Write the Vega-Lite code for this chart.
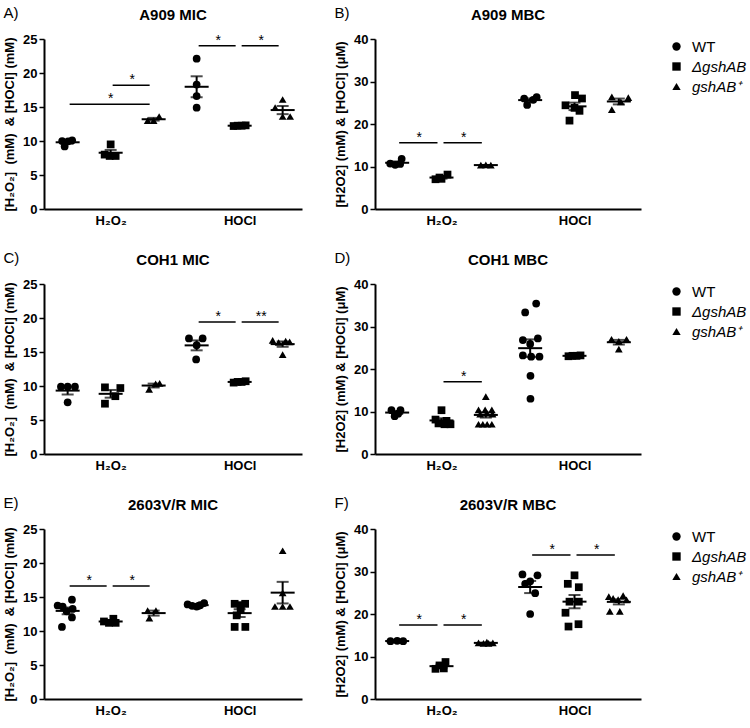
{
  "$schema": "https://vega.github.io/schema/vega-lite/v6.json",
  "padding": {"top": 6, "left": 3, "right": 0, "bottom": 0},
  "datasets": {
    "points": [
      {"panel": "A", "group": "H2O2 WT", "strain": "WT", "value": 10.0, "jitter": -0.55},
      {"panel": "A", "group": "H2O2 WT", "strain": "WT", "value": 10.1, "jitter": 0.45},
      {"panel": "A", "group": "H2O2 WT", "strain": "WT", "value": 9.2, "jitter": -0.3},
      {"panel": "A", "group": "H2O2 WT", "strain": "WT", "value": 9.95, "jitter": 0.05},
      {"panel": "A", "group": "H2O2 dgshAB", "strain": "ΔgshAB", "value": 9.5, "jitter": 0.0},
      {"panel": "A", "group": "H2O2 dgshAB", "strain": "ΔgshAB", "value": 8.0, "jitter": -0.6},
      {"panel": "A", "group": "H2O2 dgshAB", "strain": "ΔgshAB", "value": 7.8, "jitter": -0.1},
      {"panel": "A", "group": "H2O2 dgshAB", "strain": "ΔgshAB", "value": 7.8, "jitter": 0.5},
      {"panel": "A", "group": "H2O2 gshAB+", "strain": "gshAB⁺", "value": 13.0, "jitter": -0.6},
      {"panel": "A", "group": "H2O2 gshAB+", "strain": "gshAB⁺", "value": 13.0, "jitter": 0.0},
      {"panel": "A", "group": "H2O2 gshAB+", "strain": "gshAB⁺", "value": 13.6, "jitter": 0.55},
      {"panel": "A", "group": "HOCl WT", "strain": "WT", "value": 22.1, "jitter": 0.0},
      {"panel": "A", "group": "HOCl WT", "strain": "WT", "value": 18.3, "jitter": 0.0},
      {"panel": "A", "group": "HOCl WT", "strain": "WT", "value": 16.6, "jitter": 0.0},
      {"panel": "A", "group": "HOCl WT", "strain": "WT", "value": 14.9, "jitter": 0.0},
      {"panel": "A", "group": "HOCl dgshAB", "strain": "ΔgshAB", "value": 12.2, "jitter": -0.6},
      {"panel": "A", "group": "HOCl dgshAB", "strain": "ΔgshAB", "value": 12.25, "jitter": -0.2},
      {"panel": "A", "group": "HOCl dgshAB", "strain": "ΔgshAB", "value": 12.25, "jitter": 0.2},
      {"panel": "A", "group": "HOCl dgshAB", "strain": "ΔgshAB", "value": 12.3, "jitter": 0.6},
      {"panel": "A", "group": "HOCl gshAB+", "strain": "gshAB⁺", "value": 16.1, "jitter": 0.0},
      {"panel": "A", "group": "HOCl gshAB+", "strain": "gshAB⁺", "value": 14.9, "jitter": -0.75},
      {"panel": "A", "group": "HOCl gshAB+", "strain": "gshAB⁺", "value": 13.6, "jitter": 0.0},
      {"panel": "A", "group": "HOCl gshAB+", "strain": "gshAB⁺", "value": 13.6, "jitter": 0.75},

      {"panel": "B", "group": "H2O2 WT", "strain": "WT", "value": 10.7, "jitter": -0.7},
      {"panel": "B", "group": "H2O2 WT", "strain": "WT", "value": 10.4, "jitter": -0.2},
      {"panel": "B", "group": "H2O2 WT", "strain": "WT", "value": 10.6, "jitter": 0.3},
      {"panel": "B", "group": "H2O2 WT", "strain": "WT", "value": 11.8, "jitter": 0.45},
      {"panel": "B", "group": "H2O2 dgshAB", "strain": "ΔgshAB", "value": 7.0, "jitter": -0.6},
      {"panel": "B", "group": "H2O2 dgshAB", "strain": "ΔgshAB", "value": 7.1, "jitter": 0.0},
      {"panel": "B", "group": "H2O2 dgshAB", "strain": "ΔgshAB", "value": 8.1, "jitter": 0.6},
      {"panel": "B", "group": "H2O2 dgshAB", "strain": "ΔgshAB", "value": 7.4, "jitter": -0.2},
      {"panel": "B", "group": "H2O2 gshAB+", "strain": "gshAB⁺", "value": 10.3, "jitter": -0.5},
      {"panel": "B", "group": "H2O2 gshAB+", "strain": "gshAB⁺", "value": 10.3, "jitter": 0.5},
      {"panel": "B", "group": "H2O2 gshAB+", "strain": "gshAB⁺", "value": 10.4, "jitter": 0.0},
      {"panel": "B", "group": "HOCl WT", "strain": "WT", "value": 26.0, "jitter": -0.6},
      {"panel": "B", "group": "HOCl WT", "strain": "WT", "value": 24.5, "jitter": -0.3},
      {"panel": "B", "group": "HOCl WT", "strain": "WT", "value": 25.7, "jitter": 0.3},
      {"panel": "B", "group": "HOCl WT", "strain": "WT", "value": 26.3, "jitter": 0.65},
      {"panel": "B", "group": "HOCl dgshAB", "strain": "ΔgshAB", "value": 26.8, "jitter": 0.05},
      {"panel": "B", "group": "HOCl dgshAB", "strain": "ΔgshAB", "value": 26.0, "jitter": 0.75},
      {"panel": "B", "group": "HOCl dgshAB", "strain": "ΔgshAB", "value": 24.4, "jitter": -0.9},
      {"panel": "B", "group": "HOCl dgshAB", "strain": "ΔgshAB", "value": 23.8, "jitter": 0.0},
      {"panel": "B", "group": "HOCl dgshAB", "strain": "ΔgshAB", "value": 23.1, "jitter": 0.5},
      {"panel": "B", "group": "HOCl dgshAB", "strain": "ΔgshAB", "value": 20.8, "jitter": -0.5},
      {"panel": "B", "group": "HOCl gshAB+", "strain": "gshAB⁺", "value": 26.4, "jitter": -0.7},
      {"panel": "B", "group": "HOCl gshAB+", "strain": "gshAB⁺", "value": 26.2, "jitter": 0.95},
      {"panel": "B", "group": "HOCl gshAB+", "strain": "gshAB⁺", "value": 25.2, "jitter": 0.2},
      {"panel": "B", "group": "HOCl gshAB+", "strain": "gshAB⁺", "value": 23.4, "jitter": -0.7},

      {"panel": "C", "group": "H2O2 WT", "strain": "WT", "value": 9.9, "jitter": -0.67},
      {"panel": "C", "group": "H2O2 WT", "strain": "WT", "value": 9.9, "jitter": 0.0},
      {"panel": "C", "group": "H2O2 WT", "strain": "WT", "value": 9.9, "jitter": 0.73},
      {"panel": "C", "group": "H2O2 WT", "strain": "WT", "value": 7.6, "jitter": 0.0},
      {"panel": "C", "group": "H2O2 dgshAB", "strain": "ΔgshAB", "value": 9.8, "jitter": -0.57},
      {"panel": "C", "group": "H2O2 dgshAB", "strain": "ΔgshAB", "value": 9.7, "jitter": 0.97},
      {"panel": "C", "group": "H2O2 dgshAB", "strain": "ΔgshAB", "value": 8.5, "jitter": 0.47},
      {"panel": "C", "group": "H2O2 dgshAB", "strain": "ΔgshAB", "value": 7.4, "jitter": -0.57},
      {"panel": "C", "group": "H2O2 gshAB+", "strain": "gshAB⁺", "value": 9.5, "jitter": -0.45},
      {"panel": "C", "group": "H2O2 gshAB+", "strain": "gshAB⁺", "value": 10.3, "jitter": 0.2},
      {"panel": "C", "group": "H2O2 gshAB+", "strain": "gshAB⁺", "value": 10.4, "jitter": 0.6},
      {"panel": "C", "group": "HOCl WT", "strain": "WT", "value": 17.0, "jitter": -0.77},
      {"panel": "C", "group": "HOCl WT", "strain": "WT", "value": 17.0, "jitter": 0.6},
      {"panel": "C", "group": "HOCl WT", "strain": "WT", "value": 16.0, "jitter": 0.0},
      {"panel": "C", "group": "HOCl WT", "strain": "WT", "value": 13.9, "jitter": -0.05},
      {"panel": "C", "group": "HOCl dgshAB", "strain": "ΔgshAB", "value": 10.5, "jitter": -0.6},
      {"panel": "C", "group": "HOCl dgshAB", "strain": "ΔgshAB", "value": 10.6, "jitter": -0.2},
      {"panel": "C", "group": "HOCl dgshAB", "strain": "ΔgshAB", "value": 10.6, "jitter": 0.2},
      {"panel": "C", "group": "HOCl dgshAB", "strain": "ΔgshAB", "value": 10.7, "jitter": 0.6},
      {"panel": "C", "group": "HOCl gshAB+", "strain": "gshAB⁺", "value": 16.7, "jitter": -1.0},
      {"panel": "C", "group": "HOCl gshAB+", "strain": "gshAB⁺", "value": 16.6, "jitter": 0.3},
      {"panel": "C", "group": "HOCl gshAB+", "strain": "gshAB⁺", "value": 16.4, "jitter": -0.4},
      {"panel": "C", "group": "HOCl gshAB+", "strain": "gshAB⁺", "value": 16.5, "jitter": 0.7},
      {"panel": "C", "group": "HOCl gshAB+", "strain": "gshAB⁺", "value": 14.6, "jitter": 0.0},

      {"panel": "D", "group": "H2O2 WT", "strain": "WT", "value": 10.3, "jitter": -0.57},
      {"panel": "D", "group": "H2O2 WT", "strain": "WT", "value": 10.3, "jitter": 0.33},
      {"panel": "D", "group": "H2O2 WT", "strain": "WT", "value": 8.9, "jitter": -0.25},
      {"panel": "D", "group": "H2O2 WT", "strain": "WT", "value": 9.5, "jitter": 0.1},
      {"panel": "D", "group": "H2O2 dgshAB", "strain": "ΔgshAB", "value": 10.3, "jitter": 0.0},
      {"panel": "D", "group": "H2O2 dgshAB", "strain": "ΔgshAB", "value": 8.1, "jitter": -0.6},
      {"panel": "D", "group": "H2O2 dgshAB", "strain": "ΔgshAB", "value": 7.8, "jitter": 0.5},
      {"panel": "D", "group": "H2O2 dgshAB", "strain": "ΔgshAB", "value": 7.2, "jitter": -0.3},
      {"panel": "D", "group": "H2O2 dgshAB", "strain": "ΔgshAB", "value": 7.0, "jitter": 0.3},
      {"panel": "D", "group": "H2O2 dgshAB", "strain": "ΔgshAB", "value": 7.0, "jitter": 0.9},
      {"panel": "D", "group": "H2O2 gshAB+", "strain": "gshAB⁺", "value": 13.5, "jitter": 0.0},
      {"panel": "D", "group": "H2O2 gshAB+", "strain": "gshAB⁺", "value": 10.4, "jitter": -0.73},
      {"panel": "D", "group": "H2O2 gshAB+", "strain": "gshAB⁺", "value": 10.4, "jitter": -0.07},
      {"panel": "D", "group": "H2O2 gshAB+", "strain": "gshAB⁺", "value": 10.4, "jitter": 0.6},
      {"panel": "D", "group": "H2O2 gshAB+", "strain": "gshAB⁺", "value": 9.4, "jitter": -0.57},
      {"panel": "D", "group": "H2O2 gshAB+", "strain": "gshAB⁺", "value": 9.4, "jitter": 0.67},
      {"panel": "D", "group": "H2O2 gshAB+", "strain": "gshAB⁺", "value": 9.6, "jitter": 0.1},
      {"panel": "D", "group": "H2O2 gshAB+", "strain": "gshAB⁺", "value": 7.0, "jitter": -0.73},
      {"panel": "D", "group": "H2O2 gshAB+", "strain": "gshAB⁺", "value": 7.0, "jitter": -0.3},
      {"panel": "D", "group": "H2O2 gshAB+", "strain": "gshAB⁺", "value": 7.0, "jitter": 0.13},
      {"panel": "D", "group": "H2O2 gshAB+", "strain": "gshAB⁺", "value": 7.0, "jitter": 0.6},
      {"panel": "D", "group": "HOCl WT", "strain": "WT", "value": 35.4, "jitter": 0.6},
      {"panel": "D", "group": "HOCl WT", "strain": "WT", "value": 33.3, "jitter": -0.5},
      {"panel": "D", "group": "HOCl WT", "strain": "WT", "value": 26.8, "jitter": -0.73},
      {"panel": "D", "group": "HOCl WT", "strain": "WT", "value": 27.2, "jitter": 0.77},
      {"panel": "D", "group": "HOCl WT", "strain": "WT", "value": 25.9, "jitter": 0.0},
      {"panel": "D", "group": "HOCl WT", "strain": "WT", "value": 23.2, "jitter": -0.73},
      {"panel": "D", "group": "HOCl WT", "strain": "WT", "value": 22.9, "jitter": 0.1},
      {"panel": "D", "group": "HOCl WT", "strain": "WT", "value": 22.9, "jitter": 0.93},
      {"panel": "D", "group": "HOCl WT", "strain": "WT", "value": 18.4, "jitter": 0.03},
      {"panel": "D", "group": "HOCl WT", "strain": "WT", "value": 13.0, "jitter": 0.03},
      {"panel": "D", "group": "HOCl dgshAB", "strain": "ΔgshAB", "value": 23.0, "jitter": -0.6},
      {"panel": "D", "group": "HOCl dgshAB", "strain": "ΔgshAB", "value": 23.1, "jitter": -0.2},
      {"panel": "D", "group": "HOCl dgshAB", "strain": "ΔgshAB", "value": 23.1, "jitter": 0.2},
      {"panel": "D", "group": "HOCl dgshAB", "strain": "ΔgshAB", "value": 23.2, "jitter": 0.6},
      {"panel": "D", "group": "HOCl gshAB+", "strain": "gshAB⁺", "value": 27.0, "jitter": -0.73},
      {"panel": "D", "group": "HOCl gshAB+", "strain": "gshAB⁺", "value": 27.0, "jitter": 0.77},
      {"panel": "D", "group": "HOCl gshAB+", "strain": "gshAB⁺", "value": 26.5, "jitter": 0.0},
      {"panel": "D", "group": "HOCl gshAB+", "strain": "gshAB⁺", "value": 24.7, "jitter": 0.0},

      {"panel": "E", "group": "H2O2 WT", "strain": "WT", "value": 13.75, "jitter": -1.0},
      {"panel": "E", "group": "H2O2 WT", "strain": "WT", "value": 13.6, "jitter": -0.5},
      {"panel": "E", "group": "H2O2 WT", "strain": "WT", "value": 14.6, "jitter": 0.43},
      {"panel": "E", "group": "H2O2 WT", "strain": "WT", "value": 13.25, "jitter": 0.5},
      {"panel": "E", "group": "H2O2 WT", "strain": "WT", "value": 12.9, "jitter": -0.1},
      {"panel": "E", "group": "H2O2 WT", "strain": "WT", "value": 12.0, "jitter": 0.43},
      {"panel": "E", "group": "H2O2 WT", "strain": "WT", "value": 10.6, "jitter": -0.57},
      {"panel": "E", "group": "H2O2 dgshAB", "strain": "ΔgshAB", "value": 11.4, "jitter": -0.67},
      {"panel": "E", "group": "H2O2 dgshAB", "strain": "ΔgshAB", "value": 11.8, "jitter": 0.27},
      {"panel": "E", "group": "H2O2 dgshAB", "strain": "ΔgshAB", "value": 11.2, "jitter": -0.17},
      {"panel": "E", "group": "H2O2 dgshAB", "strain": "ΔgshAB", "value": 11.2, "jitter": 0.5},
      {"panel": "E", "group": "H2O2 gshAB+", "strain": "gshAB⁺", "value": 13.0, "jitter": -0.6},
      {"panel": "E", "group": "H2O2 gshAB+", "strain": "gshAB⁺", "value": 13.0, "jitter": 0.23},
      {"panel": "E", "group": "H2O2 gshAB+", "strain": "gshAB⁺", "value": 11.9, "jitter": -0.43},
      {"panel": "E", "group": "HOCl WT", "strain": "WT", "value": 13.9, "jitter": -0.9},
      {"panel": "E", "group": "HOCl WT", "strain": "WT", "value": 13.7, "jitter": -0.45},
      {"panel": "E", "group": "HOCl WT", "strain": "WT", "value": 13.6, "jitter": 0.0},
      {"panel": "E", "group": "HOCl WT", "strain": "WT", "value": 13.8, "jitter": 0.35},
      {"panel": "E", "group": "HOCl WT", "strain": "WT", "value": 14.1, "jitter": 0.75},
      {"panel": "E", "group": "HOCl WT", "strain": "WT", "value": 13.7, "jitter": 0.2},
      {"panel": "E", "group": "HOCl dgshAB", "strain": "ΔgshAB", "value": 14.0, "jitter": -0.5},
      {"panel": "E", "group": "HOCl dgshAB", "strain": "ΔgshAB", "value": 14.0, "jitter": 0.55},
      {"panel": "E", "group": "HOCl dgshAB", "strain": "ΔgshAB", "value": 13.8, "jitter": 0.1},
      {"panel": "E", "group": "HOCl dgshAB", "strain": "ΔgshAB", "value": 13.1, "jitter": 0.1},
      {"panel": "E", "group": "HOCl dgshAB", "strain": "ΔgshAB", "value": 12.3, "jitter": -0.3},
      {"panel": "E", "group": "HOCl dgshAB", "strain": "ΔgshAB", "value": 10.6, "jitter": -0.5},
      {"panel": "E", "group": "HOCl dgshAB", "strain": "ΔgshAB", "value": 10.6, "jitter": 0.57},
      {"panel": "E", "group": "HOCl gshAB+", "strain": "gshAB⁺", "value": 21.8, "jitter": 0.0},
      {"panel": "E", "group": "HOCl gshAB+", "strain": "gshAB⁺", "value": 15.6, "jitter": 0.0},
      {"panel": "E", "group": "HOCl gshAB+", "strain": "gshAB⁺", "value": 13.6, "jitter": -0.77},
      {"panel": "E", "group": "HOCl gshAB+", "strain": "gshAB⁺", "value": 13.6, "jitter": 0.0},
      {"panel": "E", "group": "HOCl gshAB+", "strain": "gshAB⁺", "value": 13.6, "jitter": 0.73},

      {"panel": "F", "group": "H2O2 WT", "strain": "WT", "value": 13.6, "jitter": -0.67},
      {"panel": "F", "group": "H2O2 WT", "strain": "WT", "value": 13.7, "jitter": 0.0},
      {"panel": "F", "group": "H2O2 WT", "strain": "WT", "value": 13.6, "jitter": 0.6},
      {"panel": "F", "group": "H2O2 dgshAB", "strain": "ΔgshAB", "value": 8.7, "jitter": 0.4},
      {"panel": "F", "group": "H2O2 dgshAB", "strain": "ΔgshAB", "value": 7.9, "jitter": -0.2},
      {"panel": "F", "group": "H2O2 dgshAB", "strain": "ΔgshAB", "value": 7.1, "jitter": -0.6},
      {"panel": "F", "group": "H2O2 dgshAB", "strain": "ΔgshAB", "value": 7.2, "jitter": 0.23},
      {"panel": "F", "group": "H2O2 gshAB+", "strain": "gshAB⁺", "value": 13.2, "jitter": -0.73},
      {"panel": "F", "group": "H2O2 gshAB+", "strain": "gshAB⁺", "value": 13.1, "jitter": -0.23},
      {"panel": "F", "group": "H2O2 gshAB+", "strain": "gshAB⁺", "value": 13.4, "jitter": 0.1},
      {"panel": "F", "group": "H2O2 gshAB+", "strain": "gshAB⁺", "value": 13.1, "jitter": 0.27},
      {"panel": "F", "group": "H2O2 gshAB+", "strain": "gshAB⁺", "value": 13.2, "jitter": 0.7},
      {"panel": "F", "group": "HOCl WT", "strain": "WT", "value": 29.3, "jitter": -0.77},
      {"panel": "F", "group": "HOCl WT", "strain": "WT", "value": 29.1, "jitter": 0.73},
      {"panel": "F", "group": "HOCl WT", "strain": "WT", "value": 27.7, "jitter": 0.0},
      {"panel": "F", "group": "HOCl WT", "strain": "WT", "value": 27.1, "jitter": -0.5},
      {"panel": "F", "group": "HOCl WT", "strain": "WT", "value": 24.9, "jitter": 0.5},
      {"panel": "F", "group": "HOCl WT", "strain": "WT", "value": 20.0, "jitter": 0.0},
      {"panel": "F", "group": "HOCl dgshAB", "strain": "ΔgshAB", "value": 29.1, "jitter": 0.0},
      {"panel": "F", "group": "HOCl dgshAB", "strain": "ΔgshAB", "value": 27.1, "jitter": -0.67},
      {"panel": "F", "group": "HOCl dgshAB", "strain": "ΔgshAB", "value": 26.3, "jitter": 0.43},
      {"panel": "F", "group": "HOCl dgshAB", "strain": "ΔgshAB", "value": 22.9, "jitter": -0.5},
      {"panel": "F", "group": "HOCl dgshAB", "strain": "ΔgshAB", "value": 22.9, "jitter": 0.43},
      {"panel": "F", "group": "HOCl dgshAB", "strain": "ΔgshAB", "value": 20.3, "jitter": -0.9},
      {"panel": "F", "group": "HOCl dgshAB", "strain": "ΔgshAB", "value": 17.6, "jitter": 0.4},
      {"panel": "F", "group": "HOCl dgshAB", "strain": "ΔgshAB", "value": 17.05, "jitter": -0.6},
      {"panel": "F", "group": "HOCl gshAB+", "strain": "gshAB⁺", "value": 24.3, "jitter": 0.43},
      {"panel": "F", "group": "HOCl gshAB+", "strain": "gshAB⁺", "value": 24.1, "jitter": -1.0},
      {"panel": "F", "group": "HOCl gshAB+", "strain": "gshAB⁺", "value": 23.7, "jitter": -0.57},
      {"panel": "F", "group": "HOCl gshAB+", "strain": "gshAB⁺", "value": 23.4, "jitter": -0.07},
      {"panel": "F", "group": "HOCl gshAB+", "strain": "gshAB⁺", "value": 23.3, "jitter": 0.77},
      {"panel": "F", "group": "HOCl gshAB+", "strain": "gshAB⁺", "value": 20.6, "jitter": -0.9},
      {"panel": "F", "group": "HOCl gshAB+", "strain": "gshAB⁺", "value": 20.6, "jitter": 0.1}
    ],
    "sig": [
      {"panel": "A", "g1": "H2O2 WT", "g2": "H2O2 gshAB+", "mid": "H2O2 dgshAB", "y": 15.4, "label": "*"},
      {"panel": "A", "g1": "H2O2 dgshAB", "g2": "H2O2 gshAB+", "mid": "H2O2 dgshAB/gshAB+", "y": 18.2, "label": "*"},
      {"panel": "A", "g1": "HOCl WT", "g2": "HOCl dgshAB", "mid": "HOCl WT/dgshAB", "y": 24.0, "label": "*"},
      {"panel": "A", "g1": "HOCl dgshAB", "g2": "HOCl gshAB+", "mid": "HOCl dgshAB/gshAB+", "y": 24.0, "label": "*"},
      {"panel": "B", "g1": "H2O2 WT", "g2": "H2O2 dgshAB", "mid": "H2O2 WT/dgshAB", "y": 15.6, "label": "*"},
      {"panel": "B", "g1": "H2O2 dgshAB", "g2": "H2O2 gshAB+", "mid": "H2O2 dgshAB/gshAB+", "y": 15.6, "label": "*"},
      {"panel": "C", "g1": "HOCl WT", "g2": "HOCl dgshAB", "mid": "HOCl WT/dgshAB", "y": 19.4, "label": "*"},
      {"panel": "C", "g1": "HOCl dgshAB", "g2": "HOCl gshAB+", "mid": "HOCl dgshAB/gshAB+", "y": 19.4, "label": "**"},
      {"panel": "D", "g1": "H2O2 dgshAB", "g2": "H2O2 gshAB+", "mid": "H2O2 dgshAB/gshAB+", "y": 17.0, "label": "*"},
      {"panel": "E", "g1": "H2O2 WT", "g2": "H2O2 dgshAB", "mid": "H2O2 WT/dgshAB", "y": 16.6, "label": "*"},
      {"panel": "E", "g1": "H2O2 dgshAB", "g2": "H2O2 gshAB+", "mid": "H2O2 dgshAB/gshAB+", "y": 16.6, "label": "*"},
      {"panel": "F", "g1": "H2O2 WT", "g2": "H2O2 dgshAB", "mid": "H2O2 WT/dgshAB", "y": 17.4, "label": "*"},
      {"panel": "F", "g1": "H2O2 dgshAB", "g2": "H2O2 gshAB+", "mid": "H2O2 dgshAB/gshAB+", "y": 17.4, "label": "*"},
      {"panel": "F", "g1": "HOCl WT", "g2": "HOCl dgshAB", "mid": "HOCl WT/dgshAB", "y": 33.9, "label": "*"},
      {"panel": "F", "g1": "HOCl dgshAB", "g2": "HOCl gshAB+", "mid": "HOCl dgshAB/gshAB+", "y": 33.9, "label": "*"}
    ]
  },
  "columns": 2,
  "align": "each",
  "spacing": {"row": 24, "column": 32},
  "resolve": {"scale": {"shape": "independent"}, "legend": {"shape": "independent"}},
  "concat": [
    {
      "title": {"text": "A)", "anchor": "start", "frame": "bounds", "offset": -13, "fontWeight": "normal"},
      "vconcat": [{
        "title": "A909 MIC",
        "width": 258, "height": 170,
        "layer": [
          {"data": {"name": "points"}, "transform": [{"filter": "datum.panel == 'A'"}],
           "mark": {"type": "point", "filled": true, "opacity": 1, "size": 60, "color": "black"},
           "encoding": {
             "x": {"field": "group", "type": "nominal", "title": null, "scale": {"type": "point", "padding": 1.15, "align": 0.55, "domain": ["H2O2 WT", "H2O2 WT/dgshAB", "H2O2 dgshAB", "H2O2 dgshAB/gshAB+", "H2O2 gshAB+", "gap", "HOCl WT", "HOCl WT/dgshAB", "HOCl dgshAB", "HOCl dgshAB/gshAB+", "HOCl gshAB+"]}, "axis": {"labelExpr": "datum.value == 'H2O2 dgshAB' ? 'H₂O₂' : datum.value == 'HOCl dgshAB' ? 'HOCl' : ''"}},
             "xOffset": {"field": "jitter", "type": "quantitative", "scale": {"domain": [-1, 1], "range": [-10, 10]}},
             "y": {"field": "value", "type": "quantitative", "title": "[H₂O₂]\u00a0 (mM)\u00a0 & [HOCl] (mM)", "scale": {"domain": [0, 25]}, "axis": {"values": [0, 5, 10, 15, 20, 25]}},
             "shape": {"field": "strain", "type": "nominal", "scale": {"domain": ["WT", "ΔgshAB", "gshAB⁺"], "range": ["circle", "square", "triangle-up"]}, "legend": null}
           }},
          {"data": {"name": "points"}, "transform": [{"filter": "datum.panel == 'A'"}],
           "mark": {"type": "tick", "size": 24, "thickness": 2, "color": "black"},
           "encoding": {
             "x": {"field": "group", "type": "nominal", "title": null, "scale": {"type": "point", "padding": 1.15, "align": 0.55, "domain": ["H2O2 WT", "H2O2 WT/dgshAB", "H2O2 dgshAB", "H2O2 dgshAB/gshAB+", "H2O2 gshAB+", "gap", "HOCl WT", "HOCl WT/dgshAB", "HOCl dgshAB", "HOCl dgshAB/gshAB+", "HOCl gshAB+"]}},
             "y": {"aggregate": "mean", "field": "value", "type": "quantitative", "title": "[H₂O₂]\u00a0 (mM)\u00a0 & [HOCl] (mM)", "scale": {"domain": [0, 25]}, "axis": {"values": [0, 5, 10, 15, 20, 25]}}
           }},
          {"data": {"name": "points"}, "transform": [{"filter": "datum.panel == 'A'"}],
           "mark": {"type": "errorbar", "extent": "stderr", "ticks": true, "size": 12, "thickness": 2, "color": "black"},
           "encoding": {
             "x": {"field": "group", "type": "nominal", "title": null, "scale": {"type": "point", "padding": 1.15, "align": 0.55, "domain": ["H2O2 WT", "H2O2 WT/dgshAB", "H2O2 dgshAB", "H2O2 dgshAB/gshAB+", "H2O2 gshAB+", "gap", "HOCl WT", "HOCl WT/dgshAB", "HOCl dgshAB", "HOCl dgshAB/gshAB+", "HOCl gshAB+"]}},
             "y": {"field": "value", "type": "quantitative", "title": "[H₂O₂]\u00a0 (mM)\u00a0 & [HOCl] (mM)", "scale": {"domain": [0, 25]}, "axis": {"values": [0, 5, 10, 15, 20, 25]}}
           }},
          {"data": {"name": "sig"}, "transform": [{"filter": "datum.panel == 'A'"}],
           "mark": {"type": "rule", "color": "black", "strokeWidth": 1.5, "xOffset": 2, "x2Offset": -4},
           "encoding": {
             "x": {"field": "g1", "type": "nominal", "title": null, "scale": {"type": "point", "padding": 1.15, "align": 0.55, "domain": ["H2O2 WT", "H2O2 WT/dgshAB", "H2O2 dgshAB", "H2O2 dgshAB/gshAB+", "H2O2 gshAB+", "gap", "HOCl WT", "HOCl WT/dgshAB", "HOCl dgshAB", "HOCl dgshAB/gshAB+", "HOCl gshAB+"]}},
             "x2": {"field": "g2"},
             "y": {"field": "y", "type": "quantitative", "title": "[H₂O₂]\u00a0 (mM)\u00a0 & [HOCl] (mM)", "scale": {"domain": [0, 25]}, "axis": {"values": [0, 5, 10, 15, 20, 25]}}
           }},
          {"data": {"name": "sig"}, "transform": [{"filter": "datum.panel == 'A'"}],
           "mark": {"type": "text", "fontSize": 14, "baseline": "alphabetic", "dy": -1, "color": "black"},
           "encoding": {
             "x": {"field": "mid", "type": "nominal", "title": null, "scale": {"type": "point", "padding": 1.15, "align": 0.55, "domain": ["H2O2 WT", "H2O2 WT/dgshAB", "H2O2 dgshAB", "H2O2 dgshAB/gshAB+", "H2O2 gshAB+", "gap", "HOCl WT", "HOCl WT/dgshAB", "HOCl dgshAB", "HOCl dgshAB/gshAB+", "HOCl gshAB+"]}},
             "y": {"field": "y", "type": "quantitative", "title": "[H₂O₂]\u00a0 (mM)\u00a0 & [HOCl] (mM)", "scale": {"domain": [0, 25]}, "axis": {"values": [0, 5, 10, 15, 20, 25]}},
             "text": {"field": "label"}
           }}
        ]
      }]
    },
    {
      "title": {"text": "B)", "anchor": "start", "frame": "bounds", "offset": -13, "fontWeight": "normal"},
      "vconcat": [{
        "title": "A909 MBC",
        "width": 266, "height": 170,
        "layer": [
          {"data": {"name": "points"}, "transform": [{"filter": "datum.panel == 'B'"}],
           "mark": {"type": "point", "filled": true, "opacity": 1, "size": 60, "color": "black"},
           "encoding": {
             "x": {"field": "group", "type": "nominal", "title": null, "scale": {"type": "point", "padding": 1.2, "align": 0.5, "domain": ["H2O2 WT", "H2O2 WT/dgshAB", "H2O2 dgshAB", "H2O2 dgshAB/gshAB+", "H2O2 gshAB+", "gap", "HOCl WT", "HOCl WT/dgshAB", "HOCl dgshAB", "HOCl dgshAB/gshAB+", "HOCl gshAB+"]}, "axis": {"labelExpr": "datum.value == 'H2O2 dgshAB' ? 'H₂O₂' : datum.value == 'HOCl dgshAB' ? 'HOCl' : ''"}},
             "xOffset": {"field": "jitter", "type": "quantitative", "scale": {"domain": [-1, 1], "range": [-10, 10]}},
             "y": {"field": "value", "type": "quantitative", "title": "[H2O2] (mM) & [HOCl] (μM)", "scale": {"domain": [0, 40]}, "axis": {"values": [0, 10, 20, 30, 40]}},
             "shape": {"field": "strain", "type": "nominal", "scale": {"domain": ["WT", "ΔgshAB", "gshAB⁺"], "range": ["circle", "square", "triangle-up"]}, "legend": {"title": null, "offset": 28, "labelFontStyle": {"expr": "datum.label == 'WT' ? 'normal' : 'italic'"}}}
           }},
          {"data": {"name": "points"}, "transform": [{"filter": "datum.panel == 'B'"}],
           "mark": {"type": "tick", "size": 24, "thickness": 2, "color": "black"},
           "encoding": {
             "x": {"field": "group", "type": "nominal", "title": null, "scale": {"type": "point", "padding": 1.2, "align": 0.5, "domain": ["H2O2 WT", "H2O2 WT/dgshAB", "H2O2 dgshAB", "H2O2 dgshAB/gshAB+", "H2O2 gshAB+", "gap", "HOCl WT", "HOCl WT/dgshAB", "HOCl dgshAB", "HOCl dgshAB/gshAB+", "HOCl gshAB+"]}},
             "y": {"aggregate": "mean", "field": "value", "type": "quantitative", "title": "[H2O2] (mM) & [HOCl] (μM)", "scale": {"domain": [0, 40]}, "axis": {"values": [0, 10, 20, 30, 40]}}
           }},
          {"data": {"name": "points"}, "transform": [{"filter": "datum.panel == 'B'"}],
           "mark": {"type": "errorbar", "extent": "stderr", "ticks": true, "size": 12, "thickness": 2, "color": "black"},
           "encoding": {
             "x": {"field": "group", "type": "nominal", "title": null, "scale": {"type": "point", "padding": 1.2, "align": 0.5, "domain": ["H2O2 WT", "H2O2 WT/dgshAB", "H2O2 dgshAB", "H2O2 dgshAB/gshAB+", "H2O2 gshAB+", "gap", "HOCl WT", "HOCl WT/dgshAB", "HOCl dgshAB", "HOCl dgshAB/gshAB+", "HOCl gshAB+"]}},
             "y": {"field": "value", "type": "quantitative", "title": "[H2O2] (mM) & [HOCl] (μM)", "scale": {"domain": [0, 40]}, "axis": {"values": [0, 10, 20, 30, 40]}}
           }},
          {"data": {"name": "sig"}, "transform": [{"filter": "datum.panel == 'B'"}],
           "mark": {"type": "rule", "color": "black", "strokeWidth": 1.5, "xOffset": 2, "x2Offset": -4},
           "encoding": {
             "x": {"field": "g1", "type": "nominal", "title": null, "scale": {"type": "point", "padding": 1.2, "align": 0.5, "domain": ["H2O2 WT", "H2O2 WT/dgshAB", "H2O2 dgshAB", "H2O2 dgshAB/gshAB+", "H2O2 gshAB+", "gap", "HOCl WT", "HOCl WT/dgshAB", "HOCl dgshAB", "HOCl dgshAB/gshAB+", "HOCl gshAB+"]}},
             "x2": {"field": "g2"},
             "y": {"field": "y", "type": "quantitative", "title": "[H2O2] (mM) & [HOCl] (μM)", "scale": {"domain": [0, 40]}, "axis": {"values": [0, 10, 20, 30, 40]}}
           }},
          {"data": {"name": "sig"}, "transform": [{"filter": "datum.panel == 'B'"}],
           "mark": {"type": "text", "fontSize": 14, "baseline": "alphabetic", "dy": -1, "color": "black"},
           "encoding": {
             "x": {"field": "mid", "type": "nominal", "title": null, "scale": {"type": "point", "padding": 1.2, "align": 0.5, "domain": ["H2O2 WT", "H2O2 WT/dgshAB", "H2O2 dgshAB", "H2O2 dgshAB/gshAB+", "H2O2 gshAB+", "gap", "HOCl WT", "HOCl WT/dgshAB", "HOCl dgshAB", "HOCl dgshAB/gshAB+", "HOCl gshAB+"]}},
             "y": {"field": "y", "type": "quantitative", "title": "[H2O2] (mM) & [HOCl] (μM)", "scale": {"domain": [0, 40]}, "axis": {"values": [0, 10, 20, 30, 40]}},
             "text": {"field": "label"}
           }}
        ]
      }]
    },
    {
      "title": {"text": "C)", "anchor": "start", "frame": "bounds", "offset": -13, "fontWeight": "normal"},
      "vconcat": [{
        "title": "COH1 MIC",
        "width": 258, "height": 170,
        "layer": [
          {"data": {"name": "points"}, "transform": [{"filter": "datum.panel == 'C'"}],
           "mark": {"type": "point", "filled": true, "opacity": 1, "size": 60, "color": "black"},
           "encoding": {
             "x": {"field": "group", "type": "nominal", "title": null, "scale": {"type": "point", "padding": 1.15, "align": 0.55, "domain": ["H2O2 WT", "H2O2 WT/dgshAB", "H2O2 dgshAB", "H2O2 dgshAB/gshAB+", "H2O2 gshAB+", "gap", "HOCl WT", "HOCl WT/dgshAB", "HOCl dgshAB", "HOCl dgshAB/gshAB+", "HOCl gshAB+"]}, "axis": {"labelExpr": "datum.value == 'H2O2 dgshAB' ? 'H₂O₂' : datum.value == 'HOCl dgshAB' ? 'HOCl' : ''"}},
             "xOffset": {"field": "jitter", "type": "quantitative", "scale": {"domain": [-1, 1], "range": [-10, 10]}},
             "y": {"field": "value", "type": "quantitative", "title": "[H₂O₂]\u00a0 (mM)\u00a0 & [HOCl] (mM)", "scale": {"domain": [0, 25]}, "axis": {"values": [0, 5, 10, 15, 20, 25]}},
             "shape": {"field": "strain", "type": "nominal", "scale": {"domain": ["WT", "ΔgshAB", "gshAB⁺"], "range": ["circle", "square", "triangle-up"]}, "legend": null}
           }},
          {"data": {"name": "points"}, "transform": [{"filter": "datum.panel == 'C'"}],
           "mark": {"type": "tick", "size": 24, "thickness": 2, "color": "black"},
           "encoding": {
             "x": {"field": "group", "type": "nominal", "title": null, "scale": {"type": "point", "padding": 1.15, "align": 0.55, "domain": ["H2O2 WT", "H2O2 WT/dgshAB", "H2O2 dgshAB", "H2O2 dgshAB/gshAB+", "H2O2 gshAB+", "gap", "HOCl WT", "HOCl WT/dgshAB", "HOCl dgshAB", "HOCl dgshAB/gshAB+", "HOCl gshAB+"]}},
             "y": {"aggregate": "mean", "field": "value", "type": "quantitative", "title": "[H₂O₂]\u00a0 (mM)\u00a0 & [HOCl] (mM)", "scale": {"domain": [0, 25]}, "axis": {"values": [0, 5, 10, 15, 20, 25]}}
           }},
          {"data": {"name": "points"}, "transform": [{"filter": "datum.panel == 'C'"}],
           "mark": {"type": "errorbar", "extent": "stderr", "ticks": true, "size": 12, "thickness": 2, "color": "black"},
           "encoding": {
             "x": {"field": "group", "type": "nominal", "title": null, "scale": {"type": "point", "padding": 1.15, "align": 0.55, "domain": ["H2O2 WT", "H2O2 WT/dgshAB", "H2O2 dgshAB", "H2O2 dgshAB/gshAB+", "H2O2 gshAB+", "gap", "HOCl WT", "HOCl WT/dgshAB", "HOCl dgshAB", "HOCl dgshAB/gshAB+", "HOCl gshAB+"]}},
             "y": {"field": "value", "type": "quantitative", "title": "[H₂O₂]\u00a0 (mM)\u00a0 & [HOCl] (mM)", "scale": {"domain": [0, 25]}, "axis": {"values": [0, 5, 10, 15, 20, 25]}}
           }},
          {"data": {"name": "sig"}, "transform": [{"filter": "datum.panel == 'C'"}],
           "mark": {"type": "rule", "color": "black", "strokeWidth": 1.5, "xOffset": 2, "x2Offset": -4},
           "encoding": {
             "x": {"field": "g1", "type": "nominal", "title": null, "scale": {"type": "point", "padding": 1.15, "align": 0.55, "domain": ["H2O2 WT", "H2O2 WT/dgshAB", "H2O2 dgshAB", "H2O2 dgshAB/gshAB+", "H2O2 gshAB+", "gap", "HOCl WT", "HOCl WT/dgshAB", "HOCl dgshAB", "HOCl dgshAB/gshAB+", "HOCl gshAB+"]}},
             "x2": {"field": "g2"},
             "y": {"field": "y", "type": "quantitative", "title": "[H₂O₂]\u00a0 (mM)\u00a0 & [HOCl] (mM)", "scale": {"domain": [0, 25]}, "axis": {"values": [0, 5, 10, 15, 20, 25]}}
           }},
          {"data": {"name": "sig"}, "transform": [{"filter": "datum.panel == 'C'"}],
           "mark": {"type": "text", "fontSize": 14, "baseline": "alphabetic", "dy": -1, "color": "black"},
           "encoding": {
             "x": {"field": "mid", "type": "nominal", "title": null, "scale": {"type": "point", "padding": 1.15, "align": 0.55, "domain": ["H2O2 WT", "H2O2 WT/dgshAB", "H2O2 dgshAB", "H2O2 dgshAB/gshAB+", "H2O2 gshAB+", "gap", "HOCl WT", "HOCl WT/dgshAB", "HOCl dgshAB", "HOCl dgshAB/gshAB+", "HOCl gshAB+"]}},
             "y": {"field": "y", "type": "quantitative", "title": "[H₂O₂]\u00a0 (mM)\u00a0 & [HOCl] (mM)", "scale": {"domain": [0, 25]}, "axis": {"values": [0, 5, 10, 15, 20, 25]}},
             "text": {"field": "label"}
           }}
        ]
      }]
    },
    {
      "title": {"text": "D)", "anchor": "start", "frame": "bounds", "offset": -13, "fontWeight": "normal"},
      "vconcat": [{
        "title": "COH1 MBC",
        "width": 266, "height": 170,
        "layer": [
          {"data": {"name": "points"}, "transform": [{"filter": "datum.panel == 'D'"}],
           "mark": {"type": "point", "filled": true, "opacity": 1, "size": 60, "color": "black"},
           "encoding": {
             "x": {"field": "group", "type": "nominal", "title": null, "scale": {"type": "point", "padding": 1.2, "align": 0.5, "domain": ["H2O2 WT", "H2O2 WT/dgshAB", "H2O2 dgshAB", "H2O2 dgshAB/gshAB+", "H2O2 gshAB+", "gap", "HOCl WT", "HOCl WT/dgshAB", "HOCl dgshAB", "HOCl dgshAB/gshAB+", "HOCl gshAB+"]}, "axis": {"labelExpr": "datum.value == 'H2O2 dgshAB' ? 'H₂O₂' : datum.value == 'HOCl dgshAB' ? 'HOCl' : ''"}},
             "xOffset": {"field": "jitter", "type": "quantitative", "scale": {"domain": [-1, 1], "range": [-10, 10]}},
             "y": {"field": "value", "type": "quantitative", "title": "[H2O2] (mM) & [HOCl] (μM)", "scale": {"domain": [0, 40]}, "axis": {"values": [0, 10, 20, 30, 40]}},
             "shape": {"field": "strain", "type": "nominal", "scale": {"domain": ["WT", "ΔgshAB", "gshAB⁺"], "range": ["circle", "square", "triangle-up"]}, "legend": {"title": null, "offset": 28, "labelFontStyle": {"expr": "datum.label == 'WT' ? 'normal' : 'italic'"}}}
           }},
          {"data": {"name": "points"}, "transform": [{"filter": "datum.panel == 'D'"}],
           "mark": {"type": "tick", "size": 24, "thickness": 2, "color": "black"},
           "encoding": {
             "x": {"field": "group", "type": "nominal", "title": null, "scale": {"type": "point", "padding": 1.2, "align": 0.5, "domain": ["H2O2 WT", "H2O2 WT/dgshAB", "H2O2 dgshAB", "H2O2 dgshAB/gshAB+", "H2O2 gshAB+", "gap", "HOCl WT", "HOCl WT/dgshAB", "HOCl dgshAB", "HOCl dgshAB/gshAB+", "HOCl gshAB+"]}},
             "y": {"aggregate": "mean", "field": "value", "type": "quantitative", "title": "[H2O2] (mM) & [HOCl] (μM)", "scale": {"domain": [0, 40]}, "axis": {"values": [0, 10, 20, 30, 40]}}
           }},
          {"data": {"name": "points"}, "transform": [{"filter": "datum.panel == 'D'"}],
           "mark": {"type": "errorbar", "extent": "stderr", "ticks": true, "size": 12, "thickness": 2, "color": "black"},
           "encoding": {
             "x": {"field": "group", "type": "nominal", "title": null, "scale": {"type": "point", "padding": 1.2, "align": 0.5, "domain": ["H2O2 WT", "H2O2 WT/dgshAB", "H2O2 dgshAB", "H2O2 dgshAB/gshAB+", "H2O2 gshAB+", "gap", "HOCl WT", "HOCl WT/dgshAB", "HOCl dgshAB", "HOCl dgshAB/gshAB+", "HOCl gshAB+"]}},
             "y": {"field": "value", "type": "quantitative", "title": "[H2O2] (mM) & [HOCl] (μM)", "scale": {"domain": [0, 40]}, "axis": {"values": [0, 10, 20, 30, 40]}}
           }},
          {"data": {"name": "sig"}, "transform": [{"filter": "datum.panel == 'D'"}],
           "mark": {"type": "rule", "color": "black", "strokeWidth": 1.5, "xOffset": 2, "x2Offset": -4},
           "encoding": {
             "x": {"field": "g1", "type": "nominal", "title": null, "scale": {"type": "point", "padding": 1.2, "align": 0.5, "domain": ["H2O2 WT", "H2O2 WT/dgshAB", "H2O2 dgshAB", "H2O2 dgshAB/gshAB+", "H2O2 gshAB+", "gap", "HOCl WT", "HOCl WT/dgshAB", "HOCl dgshAB", "HOCl dgshAB/gshAB+", "HOCl gshAB+"]}},
             "x2": {"field": "g2"},
             "y": {"field": "y", "type": "quantitative", "title": "[H2O2] (mM) & [HOCl] (μM)", "scale": {"domain": [0, 40]}, "axis": {"values": [0, 10, 20, 30, 40]}}
           }},
          {"data": {"name": "sig"}, "transform": [{"filter": "datum.panel == 'D'"}],
           "mark": {"type": "text", "fontSize": 14, "baseline": "alphabetic", "dy": -1, "color": "black"},
           "encoding": {
             "x": {"field": "mid", "type": "nominal", "title": null, "scale": {"type": "point", "padding": 1.2, "align": 0.5, "domain": ["H2O2 WT", "H2O2 WT/dgshAB", "H2O2 dgshAB", "H2O2 dgshAB/gshAB+", "H2O2 gshAB+", "gap", "HOCl WT", "HOCl WT/dgshAB", "HOCl dgshAB", "HOCl dgshAB/gshAB+", "HOCl gshAB+"]}},
             "y": {"field": "y", "type": "quantitative", "title": "[H2O2] (mM) & [HOCl] (μM)", "scale": {"domain": [0, 40]}, "axis": {"values": [0, 10, 20, 30, 40]}},
             "text": {"field": "label"}
           }}
        ]
      }]
    },
    {
      "title": {"text": "E)", "anchor": "start", "frame": "bounds", "offset": -13, "fontWeight": "normal"},
      "vconcat": [{
        "title": "2603V/R MIC",
        "width": 258, "height": 170,
        "layer": [
          {"data": {"name": "points"}, "transform": [{"filter": "datum.panel == 'E'"}],
           "mark": {"type": "point", "filled": true, "opacity": 1, "size": 60, "color": "black"},
           "encoding": {
             "x": {"field": "group", "type": "nominal", "title": null, "scale": {"type": "point", "padding": 1.15, "align": 0.55, "domain": ["H2O2 WT", "H2O2 WT/dgshAB", "H2O2 dgshAB", "H2O2 dgshAB/gshAB+", "H2O2 gshAB+", "gap", "HOCl WT", "HOCl WT/dgshAB", "HOCl dgshAB", "HOCl dgshAB/gshAB+", "HOCl gshAB+"]}, "axis": {"labelExpr": "datum.value == 'H2O2 dgshAB' ? 'H₂O₂' : datum.value == 'HOCl dgshAB' ? 'HOCl' : ''"}},
             "xOffset": {"field": "jitter", "type": "quantitative", "scale": {"domain": [-1, 1], "range": [-10, 10]}},
             "y": {"field": "value", "type": "quantitative", "title": "[H₂O₂]\u00a0 (mM)\u00a0 & [HOCl] (mM)", "scale": {"domain": [0, 25]}, "axis": {"values": [0, 5, 10, 15, 20, 25]}},
             "shape": {"field": "strain", "type": "nominal", "scale": {"domain": ["WT", "ΔgshAB", "gshAB⁺"], "range": ["circle", "square", "triangle-up"]}, "legend": null}
           }},
          {"data": {"name": "points"}, "transform": [{"filter": "datum.panel == 'E'"}],
           "mark": {"type": "tick", "size": 24, "thickness": 2, "color": "black"},
           "encoding": {
             "x": {"field": "group", "type": "nominal", "title": null, "scale": {"type": "point", "padding": 1.15, "align": 0.55, "domain": ["H2O2 WT", "H2O2 WT/dgshAB", "H2O2 dgshAB", "H2O2 dgshAB/gshAB+", "H2O2 gshAB+", "gap", "HOCl WT", "HOCl WT/dgshAB", "HOCl dgshAB", "HOCl dgshAB/gshAB+", "HOCl gshAB+"]}},
             "y": {"aggregate": "mean", "field": "value", "type": "quantitative", "title": "[H₂O₂]\u00a0 (mM)\u00a0 & [HOCl] (mM)", "scale": {"domain": [0, 25]}, "axis": {"values": [0, 5, 10, 15, 20, 25]}}
           }},
          {"data": {"name": "points"}, "transform": [{"filter": "datum.panel == 'E'"}],
           "mark": {"type": "errorbar", "extent": "stderr", "ticks": true, "size": 12, "thickness": 2, "color": "black"},
           "encoding": {
             "x": {"field": "group", "type": "nominal", "title": null, "scale": {"type": "point", "padding": 1.15, "align": 0.55, "domain": ["H2O2 WT", "H2O2 WT/dgshAB", "H2O2 dgshAB", "H2O2 dgshAB/gshAB+", "H2O2 gshAB+", "gap", "HOCl WT", "HOCl WT/dgshAB", "HOCl dgshAB", "HOCl dgshAB/gshAB+", "HOCl gshAB+"]}},
             "y": {"field": "value", "type": "quantitative", "title": "[H₂O₂]\u00a0 (mM)\u00a0 & [HOCl] (mM)", "scale": {"domain": [0, 25]}, "axis": {"values": [0, 5, 10, 15, 20, 25]}}
           }},
          {"data": {"name": "sig"}, "transform": [{"filter": "datum.panel == 'E'"}],
           "mark": {"type": "rule", "color": "black", "strokeWidth": 1.5, "xOffset": 2, "x2Offset": -4},
           "encoding": {
             "x": {"field": "g1", "type": "nominal", "title": null, "scale": {"type": "point", "padding": 1.15, "align": 0.55, "domain": ["H2O2 WT", "H2O2 WT/dgshAB", "H2O2 dgshAB", "H2O2 dgshAB/gshAB+", "H2O2 gshAB+", "gap", "HOCl WT", "HOCl WT/dgshAB", "HOCl dgshAB", "HOCl dgshAB/gshAB+", "HOCl gshAB+"]}},
             "x2": {"field": "g2"},
             "y": {"field": "y", "type": "quantitative", "title": "[H₂O₂]\u00a0 (mM)\u00a0 & [HOCl] (mM)", "scale": {"domain": [0, 25]}, "axis": {"values": [0, 5, 10, 15, 20, 25]}}
           }},
          {"data": {"name": "sig"}, "transform": [{"filter": "datum.panel == 'E'"}],
           "mark": {"type": "text", "fontSize": 14, "baseline": "alphabetic", "dy": -1, "color": "black"},
           "encoding": {
             "x": {"field": "mid", "type": "nominal", "title": null, "scale": {"type": "point", "padding": 1.15, "align": 0.55, "domain": ["H2O2 WT", "H2O2 WT/dgshAB", "H2O2 dgshAB", "H2O2 dgshAB/gshAB+", "H2O2 gshAB+", "gap", "HOCl WT", "HOCl WT/dgshAB", "HOCl dgshAB", "HOCl dgshAB/gshAB+", "HOCl gshAB+"]}},
             "y": {"field": "y", "type": "quantitative", "title": "[H₂O₂]\u00a0 (mM)\u00a0 & [HOCl] (mM)", "scale": {"domain": [0, 25]}, "axis": {"values": [0, 5, 10, 15, 20, 25]}},
             "text": {"field": "label"}
           }}
        ]
      }]
    },
    {
      "title": {"text": "F)", "anchor": "start", "frame": "bounds", "offset": -13, "fontWeight": "normal"},
      "vconcat": [{
        "title": "2603V/R MBC",
        "width": 266, "height": 170,
        "layer": [
          {"data": {"name": "points"}, "transform": [{"filter": "datum.panel == 'F'"}],
           "mark": {"type": "point", "filled": true, "opacity": 1, "size": 60, "color": "black"},
           "encoding": {
             "x": {"field": "group", "type": "nominal", "title": null, "scale": {"type": "point", "padding": 1.2, "align": 0.5, "domain": ["H2O2 WT", "H2O2 WT/dgshAB", "H2O2 dgshAB", "H2O2 dgshAB/gshAB+", "H2O2 gshAB+", "gap", "HOCl WT", "HOCl WT/dgshAB", "HOCl dgshAB", "HOCl dgshAB/gshAB+", "HOCl gshAB+"]}, "axis": {"labelExpr": "datum.value == 'H2O2 dgshAB' ? 'H₂O₂' : datum.value == 'HOCl dgshAB' ? 'HOCl' : ''"}},
             "xOffset": {"field": "jitter", "type": "quantitative", "scale": {"domain": [-1, 1], "range": [-10, 10]}},
             "y": {"field": "value", "type": "quantitative", "title": "[H2O2] (mM) & [HOCl] (μM)", "scale": {"domain": [0, 40]}, "axis": {"values": [0, 10, 20, 30, 40]}},
             "shape": {"field": "strain", "type": "nominal", "scale": {"domain": ["WT", "ΔgshAB", "gshAB⁺"], "range": ["circle", "square", "triangle-up"]}, "legend": {"title": null, "offset": 28, "labelFontStyle": {"expr": "datum.label == 'WT' ? 'normal' : 'italic'"}}}
           }},
          {"data": {"name": "points"}, "transform": [{"filter": "datum.panel == 'F'"}],
           "mark": {"type": "tick", "size": 24, "thickness": 2, "color": "black"},
           "encoding": {
             "x": {"field": "group", "type": "nominal", "title": null, "scale": {"type": "point", "padding": 1.2, "align": 0.5, "domain": ["H2O2 WT", "H2O2 WT/dgshAB", "H2O2 dgshAB", "H2O2 dgshAB/gshAB+", "H2O2 gshAB+", "gap", "HOCl WT", "HOCl WT/dgshAB", "HOCl dgshAB", "HOCl dgshAB/gshAB+", "HOCl gshAB+"]}},
             "y": {"aggregate": "mean", "field": "value", "type": "quantitative", "title": "[H2O2] (mM) & [HOCl] (μM)", "scale": {"domain": [0, 40]}, "axis": {"values": [0, 10, 20, 30, 40]}}
           }},
          {"data": {"name": "points"}, "transform": [{"filter": "datum.panel == 'F'"}],
           "mark": {"type": "errorbar", "extent": "stderr", "ticks": true, "size": 12, "thickness": 2, "color": "black"},
           "encoding": {
             "x": {"field": "group", "type": "nominal", "title": null, "scale": {"type": "point", "padding": 1.2, "align": 0.5, "domain": ["H2O2 WT", "H2O2 WT/dgshAB", "H2O2 dgshAB", "H2O2 dgshAB/gshAB+", "H2O2 gshAB+", "gap", "HOCl WT", "HOCl WT/dgshAB", "HOCl dgshAB", "HOCl dgshAB/gshAB+", "HOCl gshAB+"]}},
             "y": {"field": "value", "type": "quantitative", "title": "[H2O2] (mM) & [HOCl] (μM)", "scale": {"domain": [0, 40]}, "axis": {"values": [0, 10, 20, 30, 40]}}
           }},
          {"data": {"name": "sig"}, "transform": [{"filter": "datum.panel == 'F'"}],
           "mark": {"type": "rule", "color": "black", "strokeWidth": 1.5, "xOffset": 2, "x2Offset": -4},
           "encoding": {
             "x": {"field": "g1", "type": "nominal", "title": null, "scale": {"type": "point", "padding": 1.2, "align": 0.5, "domain": ["H2O2 WT", "H2O2 WT/dgshAB", "H2O2 dgshAB", "H2O2 dgshAB/gshAB+", "H2O2 gshAB+", "gap", "HOCl WT", "HOCl WT/dgshAB", "HOCl dgshAB", "HOCl dgshAB/gshAB+", "HOCl gshAB+"]}},
             "x2": {"field": "g2"},
             "y": {"field": "y", "type": "quantitative", "title": "[H2O2] (mM) & [HOCl] (μM)", "scale": {"domain": [0, 40]}, "axis": {"values": [0, 10, 20, 30, 40]}}
           }},
          {"data": {"name": "sig"}, "transform": [{"filter": "datum.panel == 'F'"}],
           "mark": {"type": "text", "fontSize": 14, "baseline": "alphabetic", "dy": -1, "color": "black"},
           "encoding": {
             "x": {"field": "mid", "type": "nominal", "title": null, "scale": {"type": "point", "padding": 1.2, "align": 0.5, "domain": ["H2O2 WT", "H2O2 WT/dgshAB", "H2O2 dgshAB", "H2O2 dgshAB/gshAB+", "H2O2 gshAB+", "gap", "HOCl WT", "HOCl WT/dgshAB", "HOCl dgshAB", "HOCl dgshAB/gshAB+", "HOCl gshAB+"]}},
             "y": {"field": "y", "type": "quantitative", "title": "[H2O2] (mM) & [HOCl] (μM)", "scale": {"domain": [0, 40]}, "axis": {"values": [0, 10, 20, 30, 40]}},
             "text": {"field": "label"}
           }}
        ]
      }]
    }
  ],
  "config": {
    "font": "Liberation Sans",
    "view": {"stroke": null},
    "title": {"fontSize": 15, "fontWeight": "bold", "color": "black", "offset": 10, "anchor": "middle"},
    "axis": {"domainColor": "black", "domainWidth": 2, "tickColor": "black", "tickWidth": 1.5, "tickSize": 5, "labelColor": "black", "labelFontSize": 13, "labelFontWeight": "bold", "titleColor": "black", "titleFontSize": 13, "titleFontWeight": "bold", "grid": false},
    "axisX": {"ticks": false, "labelPadding": 5, "labelAngle": 0},
    "axisY": {"labelPadding": 2, "titlePadding": 6},
    "legend": {"labelFontSize": 15, "labelColor": "black", "symbolSize": 70, "rowPadding": 4, "symbolFillColor": "black", "symbolStrokeWidth": 0, "labelOffset": 8}
  }
}
